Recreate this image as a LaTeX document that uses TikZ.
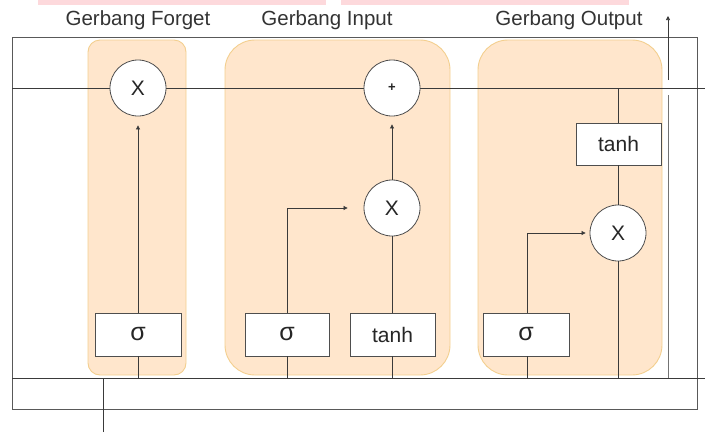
\documentclass[tikz,border=0pt]{standalone}
\usepackage{fontspec}
\setmainfont{Liberation Sans}
\usetikzlibrary{arrows.meta}
\definecolor{peach}{HTML}{FFE6CC}
\definecolor{peachline}{HTML}{F3CF8F}
\definecolor{ln}{HTML}{3A3A3A}
\definecolor{pinkbar}{HTML}{FDD9DC}
\tikzset{
  gatebox/.style={draw=peachline, fill=peach, line width=0.9pt, inner sep=0pt},
  opcircle/.style={circle, draw=ln!90, fill=white, line width=0.8pt, minimum size=56pt, inner sep=0pt, text=black!85, font=\fontsize{21}{23}\selectfont},
  actbox/.style={rectangle, draw=ln!90, fill=white, line width=0.8pt, minimum height=43pt, inner sep=0pt, text=black!85, font=\fontsize{21}{23}\selectfont},
  sig/.style={actbox, font=\fontsize{25}{27}\selectfont},
  wire/.style={draw=ln, line width=0.7pt},
  arr/.style={wire, -{Triangle[length=4pt,width=4pt]}},
  title/.style={font=\fontsize{20.5}{23}\selectfont, text=black!80, inner sep=0pt},
}
\begin{document}
\begin{tikzpicture}[x=1pt,y=-1pt]
\useasboundingbox (0,0) rectangle (705,432);
% pink bars at top edge
\fill[pinkbar] (38,0) rectangle (326,4.5);
\fill[pinkbar] (341,0) rectangle (629,4.5);

% gate backgrounds
\node[gatebox, rounded corners=12pt, minimum width=98pt, minimum height=335pt] (fgate) at (137,207.5) {};
\node[gatebox, rounded corners=30pt, minimum width=225pt, minimum height=335pt] (igate) at (337.5,207.5) {};
\node[gatebox, rounded corners=30pt, minimum width=184pt, minimum height=335pt] (ogate) at (570,207.5) {};

% titles
\node[title] (tf) at (138,20) {Gerbang Forget};
\node[title] (ti) at (327,20) {Gerbang Input};
\node[title] (to) at (569,20) {Gerbang Output};

% frame
\draw[draw=black!65, line width=0.8pt] (12,37) rectangle (697,409);

% coordinates
\coordinate (cL) at (12,88);
\coordinate (cR) at (705,88);
\coordinate (bL) at (12,378);
\coordinate (bR) at (705,378);
\coordinate (xin) at (103,432);
\coordinate (xinT) at (103,378);
\coordinate (hB) at (668,378);
\coordinate (hT) at (668,95);
\coordinate (hA) at (668,80);
\coordinate (hO) at (668,16);

% main lines
\draw[wire] (cL) -- (cR);
\draw[wire] (bL) -- (bR);
\draw[wire] (xin) -- (xinT);
\draw[draw=black!55, line width=0.9pt] (hB) -- (hT);
\draw[arr] (hA) -- (hO);

% operation nodes
\node[opcircle] (fX) at (138,88) {X};
\node[opcircle] (iP) at (392,88) {\fontsize{13}{13}\selectfont\textbf{+}};
\node[opcircle] (iX) at (392,208) {X};
\node[opcircle] (oX) at (618,233) {X};

\node[sig, minimum width=86pt] (fS) at (138,334.5) {σ};
\node[sig, minimum width=84pt] (iS) at (287,334.5) {σ};
\node[actbox, minimum width=85pt] (iT) at (392.5,334.5) {tanh};
\node[sig, minimum width=86pt] (oS) at (526,334.5) {σ};
\node[actbox, minimum width=85pt, minimum height=42pt] (oT) at (618.5,144) {tanh};

% forget gate wires
\draw[wire] (fS.south) -- (fS.south |- bL);
\draw[arr, shorten >=9pt] (fS.north) -- (fX.south);

% input gate wires
\draw[wire] (iS.south) -- (iS.south |- bL);
\draw[arr, shorten >=16pt] (iS.north) |- (iX.west);
\draw[wire] ([xshift=-0.5pt]iT.south) -- ([xshift=-0.5pt]iT.south |- bL);
\draw[wire] (iX.south) -- (iX.south |- iT.north);
\draw[arr, shorten >=8pt] (iX.north) -- (iP.south);

% output gate wires
\draw[wire] ([xshift=1pt]oS.south) -- ([xshift=1pt]oS.south |- bL);
\draw[arr, shorten >=4pt] ([xshift=1pt]oS.north) |- (oX.west);
\draw[wire] (oX.south) -- (oX.south |- bL);
\draw[wire] (oX.north) -- (oX.north |- oT.south);
\draw[wire] (oX.north |- oT.north) -- (oX.north |- cR);
\end{tikzpicture}
\end{document}
